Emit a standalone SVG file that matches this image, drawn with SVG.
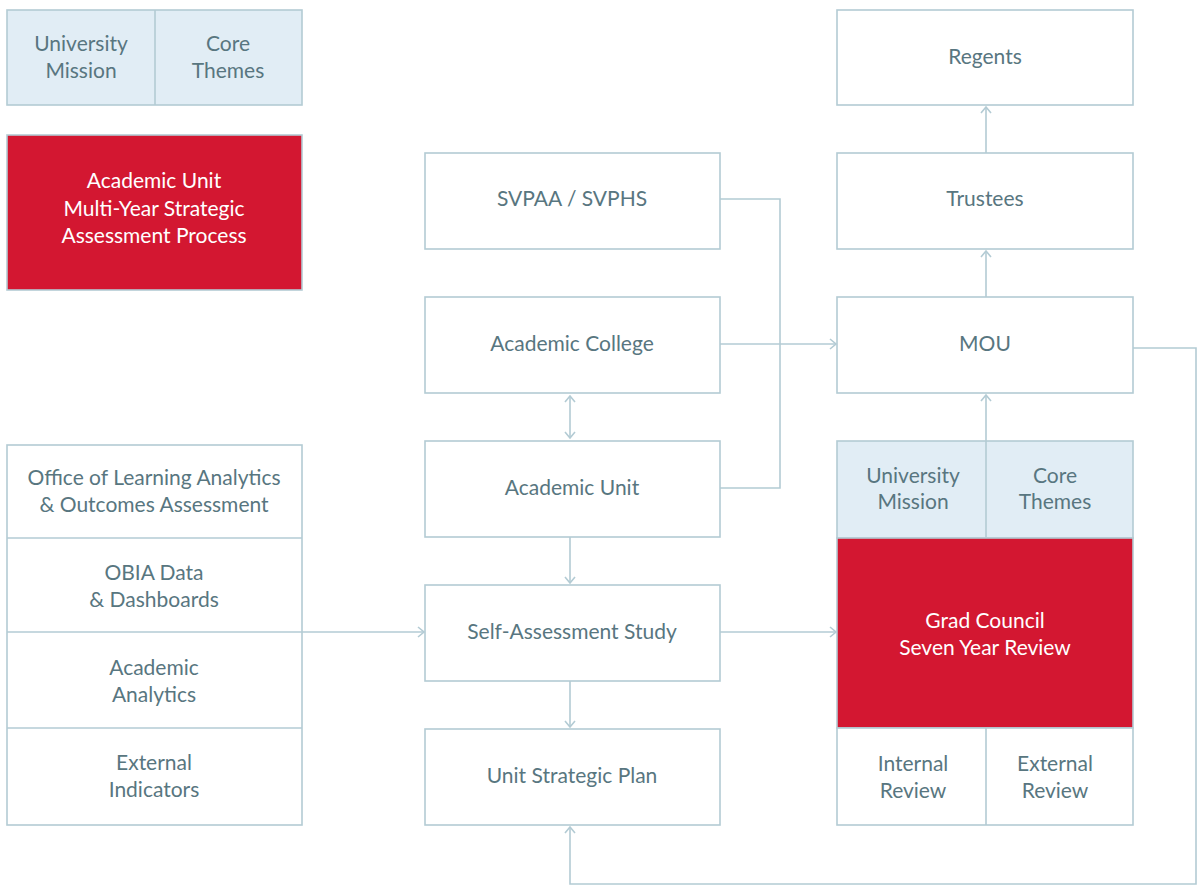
<svg xmlns="http://www.w3.org/2000/svg" width="1198" height="886" viewBox="0 0 1198 886">
<style>
.box{fill:#ffffff;stroke:#b3cbd4;stroke-width:1.6}
.lt{fill:#e1edf5;stroke:#b3cbd4;stroke-width:1.6}
.red{fill:#d31731;stroke:#b3cbd4;stroke-width:1.6}
.div{stroke:#b3cbd4;stroke-width:1.6;fill:none}
.t{font-family:Lato,"Open Sans","Liberation Sans",sans-serif;font-size:21px;fill:#587680;text-anchor:middle}
.w{font-family:Lato,"Open Sans","Liberation Sans",sans-serif;font-size:21px;fill:#ffffff;text-anchor:middle}
.c{stroke:#b3cbd4;stroke-width:1.6;fill:none}
</style>
<defs>
<marker id="ah" markerUnits="userSpaceOnUse" markerWidth="14" markerHeight="14" viewBox="-8 -7 10 14" refX="0" refY="0" orient="auto-start-reverse">
<path d="M-6,-5 L0,0 L-6,5" fill="none" stroke="#b3cbd4" stroke-width="1.6"/>
</marker>
</defs>
<rect width="1198" height="886" fill="#ffffff"/>

<g id="legend-mission-themes">
<rect class="lt" x="7" y="10" width="295" height="95"/>
<line class="div" x1="155" y1="10" x2="155" y2="105"/>
<text class="t" x="81" y="51">University</text>
<text class="t" x="81" y="78">Mission</text>
<text class="t" x="228" y="51">Core</text>
<text class="t" x="228" y="78">Themes</text>
</g>

<g id="legend-process">
<rect class="red" x="7" y="135" width="295" height="155"/>
<text class="w" x="154" y="188">Academic Unit</text>
<text class="w" x="154" y="216">Multi-Year Strategic</text>
<text class="w" x="154" y="243">Assessment Process</text>
</g>

<g id="data-sources">
<rect class="box" x="7" y="445" width="295" height="380"/>
<line class="div" x1="7" y1="538" x2="302" y2="538"/>
<line class="div" x1="7" y1="728" x2="302" y2="728"/>
<text class="t" x="154" y="485">Office of Learning Analytics</text>
<text class="t" x="154" y="512">&amp; Outcomes Assessment</text>
<text class="t" x="154" y="580">OBIA Data</text>
<text class="t" x="154" y="607">&amp; Dashboards</text>
<text class="t" x="154" y="675">Academic</text>
<text class="t" x="154" y="702">Analytics</text>
<text class="t" x="154" y="770">External</text>
<text class="t" x="154" y="797">Indicators</text>
</g>

<g id="svpaa">
<rect class="box" x="425" y="153" width="295" height="96"/>
<text class="t" x="572" y="206">SVPAA / SVPHS</text>
</g>
<g id="academic-college">
<rect class="box" x="425" y="297" width="295" height="96"/>
<text class="t" x="572" y="351">Academic College</text>
</g>
<g id="academic-unit">
<rect class="box" x="425" y="441" width="295" height="96"/>
<text class="t" x="572" y="495">Academic Unit</text>
</g>
<g id="self-assessment">
<rect class="box" x="425" y="585" width="295" height="96"/>
<text class="t" x="572" y="639">Self-Assessment Study</text>
</g>
<g id="unit-strategic-plan">
<rect class="box" x="425" y="729" width="295" height="96"/>
<text class="t" x="572" y="783">Unit Strategic Plan</text>
</g>

<g id="regents">
<rect class="box" x="837" y="10" width="296" height="95"/>
<text class="t" x="985" y="64">Regents</text>
</g>
<g id="trustees">
<rect class="box" x="837" y="153" width="296" height="96"/>
<text class="t" x="985" y="206">Trustees</text>
</g>
<g id="mou">
<rect class="box" x="837" y="297" width="296" height="96"/>
<text class="t" x="985" y="351">MOU</text>
</g>
<g id="grad-council">
<rect class="lt" x="837" y="441" width="296" height="97"/>
<rect class="red" x="837" y="538" width="296" height="190"/>
<rect class="box" x="837" y="728" width="296" height="97"/>
<line class="div" x1="986" y1="728" x2="986" y2="825"/>
<text class="t" x="913" y="483">University</text>
<text class="t" x="913" y="509">Mission</text>
<text class="t" x="1055" y="483">Core</text>
<text class="t" x="1055" y="509">Themes</text>
<text class="w" x="985" y="628">Grad Council</text>
<text class="w" x="985" y="655">Seven Year Review</text>
<text class="t" x="913" y="771">Internal</text>
<text class="t" x="913" y="798">Review</text>
<text class="t" x="1055" y="771">External</text>
<text class="t" x="1055" y="798">Review</text>
</g>

<g id="connectors">
<polyline class="c" points="720,199 780,199 780,488 720,488"/>
<line class="c" x1="720" y1="344" x2="836" y2="344" marker-end="url(#ah)"/>
<line class="c" x1="7" y1="632" x2="424" y2="632" marker-end="url(#ah)"/>
<line class="c" x1="720" y1="632" x2="836" y2="632" marker-end="url(#ah)"/>
<line class="c" x1="570" y1="396" x2="570" y2="438" marker-start="url(#ah)" marker-end="url(#ah)"/>
<line class="c" x1="570" y1="537" x2="570" y2="583" marker-end="url(#ah)"/>
<line class="c" x1="570" y1="681" x2="570" y2="727" marker-end="url(#ah)"/>
<line class="c" x1="986" y1="538" x2="986" y2="395" marker-end="url(#ah)"/>
<line class="c" x1="986" y1="297" x2="986" y2="251" marker-end="url(#ah)"/>
<line class="c" x1="986" y1="153" x2="986" y2="107" marker-end="url(#ah)"/>
<polyline class="c" points="1133,348 1196,348 1196,884 570,884 570,827" marker-end="url(#ah)"/>
</g>
</svg>
